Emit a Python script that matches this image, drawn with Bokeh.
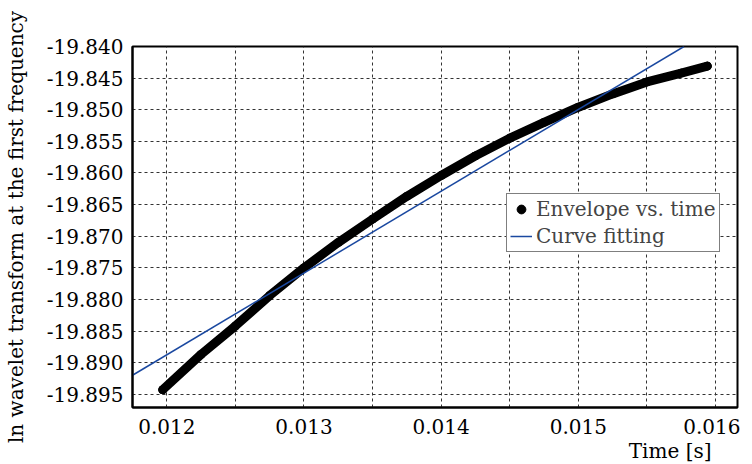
from bokeh.plotting import figure
from bokeh.models import FixedTicker, PrintfTickFormatter, Legend, LegendItem, Title
from bokeh.embed import file_html
from bokeh.resources import INLINE

# Envelope
env_time = [0.01197, 0.01225, 0.0125, 0.01275, 0.0130, 0.01325, 0.0135, 0.01375,
            0.0140, 0.01425, 0.0145, 0.01475, 0.0150, 0.01525, 0.0155, 0.01575, 0.01594]
env_value = [-19.8943, -19.8887, -19.8842, -19.8794, -19.8750, -19.8710, -19.8673, -19.8637,
             -19.8604, -19.8573, -19.8545, -19.8520, -19.8496, -19.8475, -19.8456, -19.8442, -19.8431]

# Curve fitting (straight line)
fit_time = [0.01175, 0.01577]
fit_value = [-19.8920, -19.8400]

x_ticks = [0.012, 0.013, 0.014, 0.015, 0.016]
x_grid = [0.012, 0.0125, 0.013, 0.0135, 0.014, 0.0145, 0.015, 0.0155, 0.016]
y_ticks = [-19.840, -19.845, -19.850, -19.855, -19.860, -19.865, -19.870,
           -19.875, -19.880, -19.885, -19.890, -19.895]

FONT = "DejaVu Serif"
FS = "20px"

p = figure(width=740, height=464, x_range=(0.01175, 0.01616), y_range=(-19.8971, -19.8400),
           output_backend="svg", toolbar_location=None,
           min_border_left=123, min_border_right=3, min_border_top=46, min_border_bottom=57)

p.background_fill_color = "white"
p.outline_line_color = "black"
p.outline_line_width = 2

env_line = p.line(env_time, env_value, line_width=9, color="black", line_cap="round", line_join="round")
env_pts = p.scatter(env_time, env_value, size=8, color="black")
fit = p.line(fit_time, fit_value, line_width=1.5, color="#1a48a0")

for ax in (p.xaxis[0], p.yaxis[0]):
    ax.axis_line_width = 2
    ax.axis_line_color = "black"
    ax.major_tick_line_color = None
    ax.minor_tick_line_color = None
    ax.major_label_text_font = FONT
    ax.major_label_text_font_size = FS
    ax.major_label_text_color = "black"
    ax.axis_label_text_font = FONT
    ax.axis_label_text_font_size = FS
    ax.axis_label_text_font_style = "normal"
    ax.axis_label_text_color = "black"

p.xaxis.ticker = FixedTicker(ticks=x_ticks)
p.xaxis.formatter = PrintfTickFormatter(format="%.3f")
p.xaxis.major_label_standoff = 5
p.yaxis.ticker = FixedTicker(ticks=y_ticks)
p.yaxis.formatter = PrintfTickFormatter(format="%.3f")
p.yaxis.major_label_standoff = 3
p.yaxis.axis_label = "ln wavelet transform at the first frequency"
p.yaxis.axis_label_standoff = 16

p.xgrid.ticker = FixedTicker(ticks=x_grid)
p.ygrid.ticker = FixedTicker(ticks=y_ticks)
for g in (p.xgrid[0], p.ygrid[0]):
    g.grid_line_color = "#333333"
    g.grid_line_dash = "3 3"
    g.grid_line_width = 1

xlab = Title(text="Time [s]", align="right", offset=26, standoff=0, text_font=FONT,
             text_font_size=FS, text_font_style="normal", text_color="black")
p.add_layout(xlab, "below")

legend = Legend(items=[LegendItem(label="Envelope vs. time", renderers=[env_pts]),
                       LegendItem(label="Curve fitting", renderers=[fit])],
                location=(374, 155))
legend.label_text_font = FONT
legend.label_text_font_size = FS
legend.border_line_color = "black"
legend.border_line_width = 1
legend.background_fill_alpha = 1
legend.glyph_width = 22
legend.glyph_height = 22
legend.label_height = 22
legend.label_standoff = 4
legend.spacing = 3
legend.padding = 3
legend.margin = 0
p.add_layout(legend)

open("out.html", "w").write(file_html(p, INLINE))
